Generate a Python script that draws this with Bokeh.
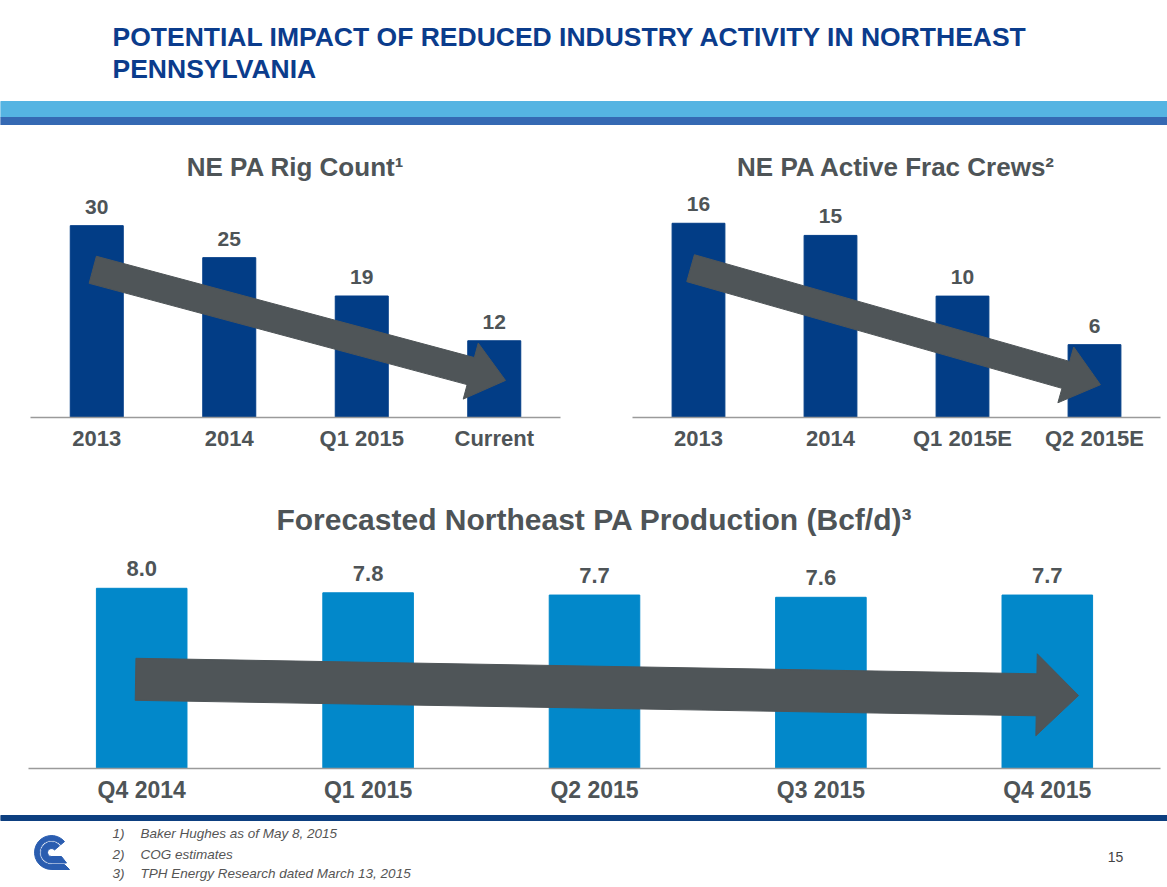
from bokeh.plotting import figure
from bokeh.layouts import column, row
from bokeh.models import Range1d, FactorRange
from bokeh.core.properties import value
from bokeh.embed import file_html
from bokeh.resources import INLINE
import math

# ---------------- data ----------------
rig_cats = ["2013", "2014", "Q1 2015", "Current"]
rig_vals = [30, 25, 19, 12]

frac_cats = ["2013", "2014", "Q1 2015E", "Q2 2015E"]
frac_vals = [16, 15, 10, 6]

prod_cats = ["Q4 2014", "Q1 2015", "Q2 2015", "Q3 2015", "Q4 2015"]
prod_vals = [8.0, 7.8, 7.7, 7.6, 7.7]
prod_labels = ["8.0", "7.8", "7.7", "7.6", "7.7"]

slide_title = ["POTENTIAL IMPACT OF REDUCED INDUSTRY ACTIVITY IN NORTHEAST", "PENNSYLVANIA"]
footnote_nums = ["1)", "2)", "3)"]
footnotes = ["Baker Hughes as of May 8, 2015", "COG estimates", "TPH Energy Research dated March 13, 2015"]
page_number = "15"

# ---------------- style ----------------
FONT = "Liberation Sans"
GRAY = "#4e5457"
NAVY = "#0b3c8c"
DARK_BAR = "#023d86"
LIGHT_BAR = "#0288ca"
ARROW = "#4f5558"
AXIS = "#9a9a9a"


def arrow_poly(x0, y0, x1, y1, shaft, head_w, head_l, kx, ky):
    X0, Y0, X1, Y1 = x0 * kx, y0 * ky, x1 * kx, y1 * ky
    dx, dy = X1 - X0, Y1 - Y0
    L = math.hypot(dx, dy)
    ux, uy = dx / L, dy / L
    nx, ny = -uy, ux
    bx, by = X1 - ux * head_l, Y1 - uy * head_l
    s, h = shaft / 2, head_w / 2
    pts = [
        (X0 + nx * s, Y0 + ny * s),
        (bx + nx * s, by + ny * s),
        (bx + nx * h, by + ny * h),
        (X1, Y1),
        (bx - nx * h, by - ny * h),
        (bx - nx * s, by - ny * s),
        (X0 - nx * s, Y0 - ny * s),
    ]
    return [p[0] / kx for p in pts], [p[1] / ky for p in pts]


def bar_chart(title, cats, vals, labels, color, ymax, fw, fh, mb, title_size, title_standoff,
              val_size, cat_size, standoff, arrow):
    p = figure(x_range=FactorRange(*cats), y_range=Range1d(0, ymax),
               frame_width=fw, frame_height=fh,
               min_border_left=mb[0], min_border_top=mb[1], min_border_right=mb[2], min_border_bottom=mb[3],
               toolbar_location=None, output_backend="svg", y_axis_location=None,
               outline_line_color=None, background_fill_color="white", border_fill_color="white")
    p.title.text = title
    p.title.align = "center"
    p.title.text_font = FONT
    p.title.text_font_style = "bold"
    p.title.text_font_size = title_size
    p.title.text_color = GRAY
    p.title.standoff = title_standoff
    p.xgrid.grid_line_color = None
    p.ygrid.grid_line_color = None
    p.vbar(x=cats, top=vals, width=0.4, color=color)
    p.text(x=cats, y=vals, text=labels, text_align="center", text_baseline="bottom",
           y_offset=-12, text_font=value(FONT), text_font_style="bold",
           text_font_size=val_size, text_color=GRAY)
    xs, ys = arrow_poly(*arrow, kx=fw / len(cats), ky=fh / ymax)
    p.patch(xs, ys, color=ARROW)
    ax = p.xaxis[0]
    ax.axis_line_color = AXIS
    ax.axis_line_width = 1.5
    ax.major_tick_line_color = None
    ax.minor_tick_line_color = None
    ax.major_label_standoff = standoff
    ax.major_label_text_font = FONT
    ax.major_label_text_font_style = "bold"
    ax.major_label_text_font_size = cat_size
    ax.major_label_text_color = GRAY
    return p


# header
hdr = figure(x_range=Range1d(0, 1167), y_range=Range1d(0, 125), frame_width=1167, frame_height=125,
             min_border=0, toolbar_location=None, output_backend="svg", outline_line_color=None,
             x_axis_location=None, y_axis_location=None)
hdr.xgrid.grid_line_color = None
hdr.ygrid.grid_line_color = None
hdr.quad(left=0, right=1167, bottom=8, top=24, color="#55b4e2")
hdr.quad(left=0, right=1167, bottom=0, top=8, color="#3569b3")
hdr.text(x=[112, 112], y=[89, 57], text=slide_title, text_align="left", text_baseline="middle",
         text_font=value(FONT), text_font_style="bold", text_font_size="26.5px", text_color=NAVY)

left = bar_chart("NE PA Rig Count\u00b9", rig_cats, rig_vals, [str(v) for v in rig_vals], DARK_BAR,
                 35.5, 530, 227, (30, 65, 30, 43), "26px", 18, "21px", "22px", 2,
                 (0.47, 23.1, 3.585, 5.8, 28, 58, 36))
right = bar_chart("NE PA Active Frac Crews\u00b2", frac_cats, frac_vals, [str(v) for v in frac_vals], DARK_BAR,
                  18.7, 528, 227, (42, 65, 7, 43), "26px", 18, "21px", "22px", 2,
                  (0.44, 12.3, 3.545, 2.7, 28, 58, 36))
bottom = bar_chart("Forecasted Northeast PA Production (Bcf/d)\u00b3", prod_cats, prod_vals, prod_labels, LIGHT_BAR,
                   9.9, 1132, 223, (28, 85, 7, 37), "30px", 19, "22px", "23px", 2,
                   (0.473, 3.96, 4.638, 3.24, 42, 82, 42))

# footer
ftr = figure(x_range=Range1d(0, 1167), y_range=Range1d(0, 82), frame_width=1167, frame_height=82,
             min_border=0, toolbar_location=None, output_backend="svg", outline_line_color=None,
             x_axis_location=None, y_axis_location=None)
ftr.xgrid.grid_line_color = None
ftr.ygrid.grid_line_color = None
ftr.quad(left=0, right=1167, bottom=67, top=72, color="#0d3f80")
ftr.text(x=[112] * 3, y=[54, 33, 14], text=footnote_nums, text_baseline="middle",
         text_font=value(FONT), text_font_style="italic", text_font_size="13.5px", text_color="#555555")
ftr.text(x=[140] * 3, y=[54, 33, 14], text=footnotes, text_baseline="middle",
         text_font=value(FONT), text_font_style="italic", text_font_size="13.5px", text_color="#555555")
ftr.text(x=[1115], y=[31], text=[page_number], text_align="center", text_baseline="middle",
         text_font=value(FONT), text_font_size="14px", text_color="#444444")
# logo (nested C shapes with horizontal tails)
LOGO = "#2a5db0"
cx, cy = 51, 35
ftr.annular_wedge(x=cx, y=cy, inner_radius=12, outer_radius=17, start_angle=math.radians(40),
                  end_angle=math.radians(270), color=LOGO)
ftr.patch([cx, cx + 18, cx + 13, cx], [cy - 17, cy - 17, cy - 12, cy - 12], color=LOGO)
ftr.annular_wedge(x=cx, y=cy, inner_radius=4, outer_radius=10.5, start_angle=math.radians(40),
                  end_angle=math.radians(270), color=LOGO)
ftr.patch([cx, cx + 15, cx + 10, cx], [cy - 10.5, cy - 10.5, cy - 4, cy - 4], color=LOGO)

layout = column(row(hdr), row(left, right), row(bottom), row(ftr))
open("out.html", "w").write(file_html(layout, INLINE))
